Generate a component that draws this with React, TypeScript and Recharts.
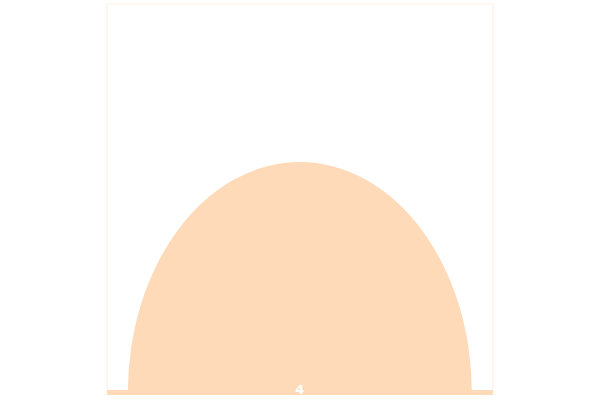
import { BarChart, Bar, XAxis, YAxis, ReferenceArea, ReferenceLine, LabelList } from "recharts";

const categories = ["A"];
const values = [4];
const yMax = 6.74;

const data = categories.map((name, i) => ({ name, value: values[i] }));

// half ellipse sitting on the bar's base, sized by the bar box
const EllipseBar = (props: any) => {
  const { x, y, width, height, fill } = props;
  if (!width || !height) return null;
  const rx = width / 2;
  const base = y + height;
  const d = `M ${x},${base} A ${rx} ${height} 0 0 1 ${x + width},${base} Z`;
  return <path d={d} fill={fill} />;
};

export default function App() {
  return (
    <div style={{ position: "absolute", left: 0, top: 0 }}>
      <BarChart
        width={600}
        height={400}
        data={data}
        barCategoryGap="5.4%"
        margin={{ top: 4, right: 107, left: 107, bottom: 7.5 }}
      >
        <XAxis dataKey="name" hide />
        <YAxis hide domain={[0, yMax]} />
        <ReferenceArea
          x1="A"
          x2="A"
          y1={0}
          y2={yMax}
          fill="none"
          stroke="#fdf1e6"
          strokeWidth={1.2}
          ifOverflow="visible"
        />
        <ReferenceLine y={0} stroke="#ffdab9" strokeWidth={5} ifOverflow="visible" />
        <Bar
          dataKey="value"
          fill="#ffdab9"
          shape={<EllipseBar />}
          isAnimationActive={false}
        >
          <LabelList
            dataKey="value"
            position="insideBottom"
            offset={-1}
            fill="#ffffff"
            fontSize={13}
            fontFamily="DejaVu Sans"
            fontWeight="bold"
          />
        </Bar>
      </BarChart>
    </div>
  );
}
